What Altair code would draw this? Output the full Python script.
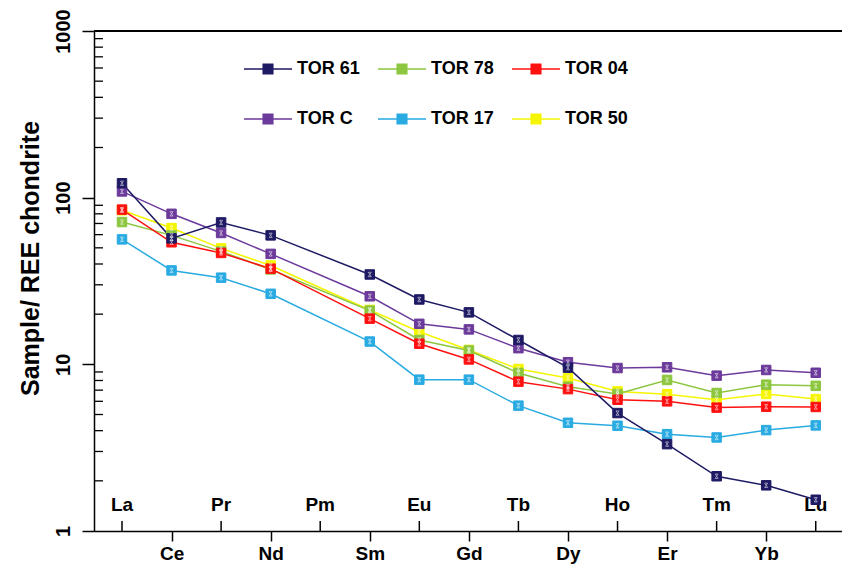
import altair as alt
import pandas as pd

# Chondrite-normalised REE pattern (spider diagram)
elements = ["La", "Ce", "Pr", "Nd", "Pm", "Sm", "Eu", "Gd", "Tb", "Dy", "Ho", "Er", "Tm", "Yb", "Lu"]
measured = ["La", "Ce", "Pr", "Nd", "Sm", "Eu", "Gd", "Tb", "Dy", "Ho", "Er", "Tm", "Yb", "Lu"]

samples = ["TOR 61", "TOR 78", "TOR 04", "TOR C", "TOR 17", "TOR 50"]
colors = ["#1e1a64", "#8dc63f", "#ff1010", "#6b3a9b", "#29abe2", "#f5f500"]
# legend entries fill column by column: two rows of three
legend_order = ["TOR 61", "TOR C", "TOR 78", "TOR 17", "TOR 04", "TOR 50"]
# stacking of the symbols, bottom first
draw_order = ["TOR 50", "TOR 17", "TOR 78", "TOR 04", "TOR C", "TOR 61"]

tor_61 = [122, 57, 71, 59.4, 34.6, 24.5, 20.5, 14.0, 9.55, 5.1, 3.32, 2.13, 1.88, 1.54]
tor_78 = [71.4, 59.4, 47.6, 37.1, 21.0, 14.0, 12.1, 8.88, 7.34, 6.64, 8.06, 6.73, 7.55, 7.43]
tor_04 = [84.8, 54, 46.6, 37.5, 18.8, 13.3, 10.7, 7.87, 7.1, 6.13, 6.0, 5.5, 5.57, 5.55]
tor_c = [109, 80, 61.4, 46, 25.6, 17.5, 16.2, 12.5, 10.3, 9.5, 9.6, 8.55, 9.25, 8.9]
tor_17 = [56.2, 36.6, 33.1, 26.5, 13.7, 8.09, 8.09, 5.65, 4.46, 4.28, 3.81, 3.64, 4.03, 4.30]
tor_50 = [84, 65.7, 49.6, 39.2, 21.2, 15.7, 12.2, 9.38, 8.28, 6.88, 6.62, 6.13, 6.64, 6.19]

major_ticks = [1, 10, 100, 1000]
minor_ticks = [m * 10 ** e for e in range(3) for m in range(2, 10)]

series = dict(zip(samples, [tor_61, tor_78, tor_04, tor_c, tor_17, tor_50]))
rows = []
for name in draw_order:
    for el, v in zip(measured, series[name]):
        rows.append({"sample": name, "element": el, "pos": elements.index(el), "value": v})
df = pd.DataFrame(rows)

elem_df = pd.DataFrame({"element": elements, "pos": list(range(len(elements)))})
upper_df = elem_df[elem_df["pos"] % 2 == 0]
minor_df = pd.DataFrame({"value": minor_ticks})

W, H = 748, 500
FONT = "Liberation Sans"
LBL = 19

x_scale = alt.Scale(domain=[-0.565, 14.53], nice=False, zero=False)
y_scale = alt.Scale(type="log", domain=[1, 1000], nice=False)
color_of = dict(zip(samples, colors))
color_scale = alt.Scale(domain=legend_order, range=[color_of[s] for s in legend_order])

name_lookup = "[" + ",".join("'%s'" % e for e in elements) + "]"

x_axis = alt.Axis(
    values=[p for p in range(len(elements)) if p % 2 == 1],
    labelExpr=name_lookup + "[datum.value]",
    title=None, grid=False, tickSize=10, tickWidth=1.5, tickColor="black",
    domainColor="black", domainWidth=1.5, labelPadding=3, labelBaseline="top",
    labelFont=FONT, labelFontSize=LBL, labelFontWeight="bold", labelColor="black",
    labelFlush=False,
)

y_axis = alt.Axis(
    values=major_ticks, format="d", grid=False,
    tickSize=12, tickWidth=1.5, tickColor="black",
    domainColor="black", domainWidth=1.5,
    labelAngle=270, labelAlign="center", labelBaseline="bottom", labelPadding=9,
    labelFont=FONT, labelFontSize=20, labelFontWeight="bold", labelColor="black",
    title="Sample/ REE chondrite", titleAngle=270, titleAlign="center",
    titleBaseline="middle", titleX=-64, titleY=227,
    titleFont=FONT, titleFontSize=25, titleFontWeight="bold", titleColor="black",
)

legend = alt.Legend(
    title=None, orient="none", legendX=149, legendY=13, columns=3,
    symbolType="M-1,0H1M-0.2,-0.2H0.2V0.2H-0.2Z",
    symbolSize=2304, symbolStrokeWidth=1.5, symbolOpacity=1,
    labelFont=FONT, labelFontSize=18, labelFontWeight="bold", labelColor="black",
    labelOffset=4, columnPadding=15, rowPadding=16, padding=0,
)

base = alt.Chart(df)

lines = base.mark_line(strokeWidth=1.5).encode(
    x=alt.X("pos:Q", scale=x_scale, axis=x_axis),
    y=alt.Y("value:Q", scale=y_scale, axis=y_axis),
    color=alt.Color("sample:N", scale=color_scale, legend=legend),
    order="pos:Q",
)

# filled squares; fill and stroke share the sample field so their legends merge
squares = base.mark_square(size=90, opacity=1, strokeWidth=1).encode(
    x=alt.X("pos:Q", scale=x_scale),
    y=alt.Y("value:Q", scale=y_scale),
    color=alt.Color("sample:N", scale=color_scale, legend=legend),
    stroke=alt.Stroke("sample:N", scale=color_scale, legend=legend),
)

glyphs = base.mark_point(
    shape="M-0.55,-0.8L0.55,-0.8L-0.55,0.8L0.55,0.8Z",
    size=30, filled=False, color="white", strokeWidth=0.7, opacity=0.75,
).encode(
    x=alt.X("pos:Q", scale=x_scale),
    y=alt.Y("value:Q", scale=y_scale),
)

# inward minor ticks on the log axis
minor = alt.Chart(minor_df).mark_rule(color="black", strokeWidth=1.3).encode(
    y=alt.Y("value:Q", scale=y_scale),
    x=alt.value(0), x2=alt.value(9),
)

# top frame line
top_line = alt.Chart(minor_df).mark_rule(color="black", strokeWidth=1.5).encode(
    x=alt.value(0), x2=alt.value(W), y=alt.value(0),
)

# upward ticks and labels for the alternate elements
up_ticks = alt.Chart(upper_df).mark_rule(color="black", strokeWidth=1.5).encode(
    x=alt.X("pos:Q", scale=x_scale),
    y=alt.value(H - 10), y2=alt.value(H),
)
up_labels = alt.Chart(upper_df).mark_text(
    font=FONT, fontSize=LBL, fontWeight="bold", color="black", baseline="middle",
).encode(
    x=alt.X("pos:Q", scale=x_scale),
    y=alt.value(H - 26),
    text="element:N",
)

chart = alt.layer(
    top_line, minor, up_ticks, up_labels, lines, squares, glyphs
).properties(
    width=W, height=H,
    padding={"left": 94, "top": 31, "right": 0, "bottom": 37},
    autosize=alt.AutoSizeParams(type="none"),
).configure_view(stroke=None).configure(background="white")

chart.save("out.html", embed_options={"renderer": "svg", "actions": False})
